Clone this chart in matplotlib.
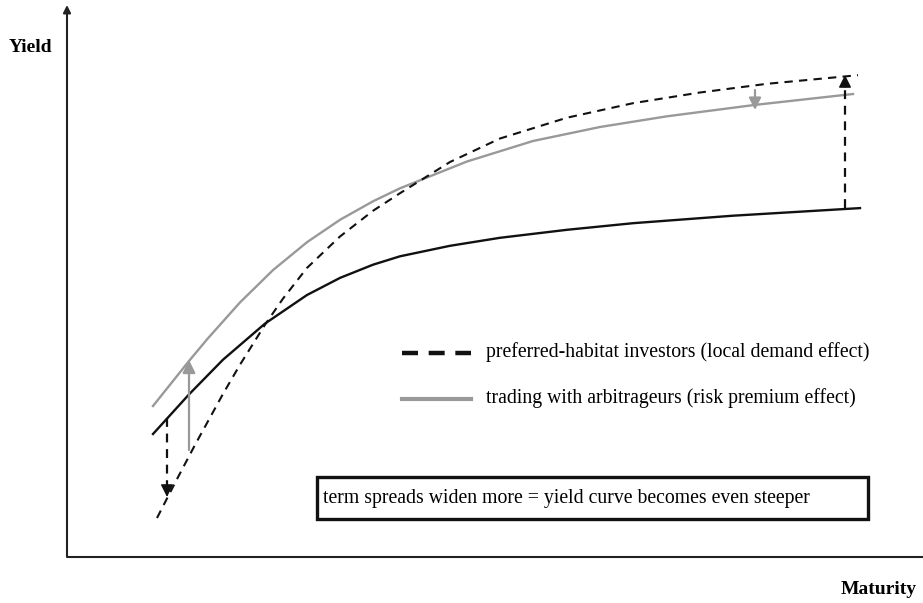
import numpy as np
import matplotlib.pyplot as plt
from matplotlib.patches import Rectangle

# ----------------------------
# Data (schematic; maturity / yield in arbitrary units)
# ----------------------------
base_mat = [86, 122, 156, 198, 240, 273, 306, 333, 383, 433, 500, 566, 666, 793]
base_yld = [123, 162.6, 197.3, 233.4, 262, 279.1, 292.3, 300.7, 311.2, 319.2, 327.2, 333.8, 341.3, 348.9]

habitat_mat = [90, 108, 128, 156, 173, 198, 216, 240, 273, 306, 333, 383, 433, 500, 566, 633, 700, 791]
habitat_yld = [39, 74.1, 112.1, 163.1, 192.3, 232.3, 258.4, 289.1, 320.5, 346.2, 363.8, 395, 418.5,
               439.3, 453.8, 464.5, 473.2, 481.8]

arb_mat = [86, 122, 140, 173, 206, 240, 273, 306, 333, 400, 466, 533, 600, 688, 786]
arb_yld = [151, 196, 217.6, 254.6, 286.9, 314.8, 337.2, 355.7, 368.7, 395.5, 416, 430, 440.7, 452.1, 463]

# shift arrows: (maturity, from yield, to yield)
arrows_black = [(100, 139, 60), (778, 349, 482)]
arrows_gray = [(122, 107, 197, 19), (688, 467, 447, 18)]

legend_labels = ["preferred-habitat investors (local demand effect)",
                 "trading with arbitrageurs (risk premium effect)"]
box_text = "term spreads widen more = yield curve becomes even steeper"

# ----------------------------
# Figure
# ----------------------------
plt.rcParams['font.family'] = ['Liberation Serif', 'DejaVu Serif']
fig = plt.figure(figsize=(9.23, 6.03), dpi=100)
ax = fig.add_axes([0, 0, 1, 1])
ax.set_xlim(-67, 856)
ax.set_ylim(-46, 557)
ax.axis("off")

BLACK = "#111111"
GRAY = "#999999"

# axes
ax.annotate("", xy=(0, 552), xytext=(0, 0),
            arrowprops=dict(arrowstyle="-|>", color="#222222", lw=1.5,
                            mutation_scale=11, shrinkA=0, shrinkB=0))
ax.plot([0, 860], [0, 0], color="#222222", lw=1.5, solid_capstyle="butt")
ax.text(-15, 509, "Yield", ha="right", va="center", fontsize=14, fontweight="bold")
ax.text(850, -33, "Maturity", ha="right", va="center", fontsize=14, fontweight="bold")

# curves
ax.plot(base_mat, base_yld, color=BLACK, lw=1.7, solid_joinstyle="round")
ax.plot(arb_mat, arb_yld, color=GRAY, lw=1.7, solid_joinstyle="round")
ax.plot(habitat_mat, habitat_yld, color=BLACK, lw=1.5, linestyle=(0, (4, 3)))

# shift arrows
for m, y0, y1 in arrows_black:
    d = 1 if y1 > y0 else -1
    ax.plot([m, m], [y0, y1 - d * 8], color=BLACK, lw=1.6, linestyle=(0, (4, 3)))
    ax.annotate("", xy=(m, y1), xytext=(m, y1 - d * 12),
                arrowprops=dict(arrowstyle="-|>", color=BLACK, lw=1.0,
                                mutation_scale=19, shrinkA=0, shrinkB=0))
for m, y0, y1, ms in arrows_gray:
    ax.annotate("", xy=(m, y1), xytext=(m, y0),
                arrowprops=dict(arrowstyle="-|>", color=GRAY, lw=1.6,
                                mutation_scale=ms, shrinkA=0, shrinkB=0))

# legend
ax.plot([335, 404], [204, 204], color=BLACK, lw=3.2, linestyle=(0, (3.6, 2.4)))
ax.plot([335, 404], [158, 158], color=GRAY, lw=3.0)
ax.text(419, 205, legend_labels[0], ha="left", va="center", fontsize=14.2)
ax.text(419, 159, legend_labels[1], ha="left", va="center", fontsize=14.2)

# text box
ax.add_patch(Rectangle((250, 38), 551, 42, fill=False, ec=BLACK, lw=2.4))
ax.text(256, 59, box_text, ha="left", va="center", fontsize=14.2)

plt.savefig("out.png", dpi=100)
